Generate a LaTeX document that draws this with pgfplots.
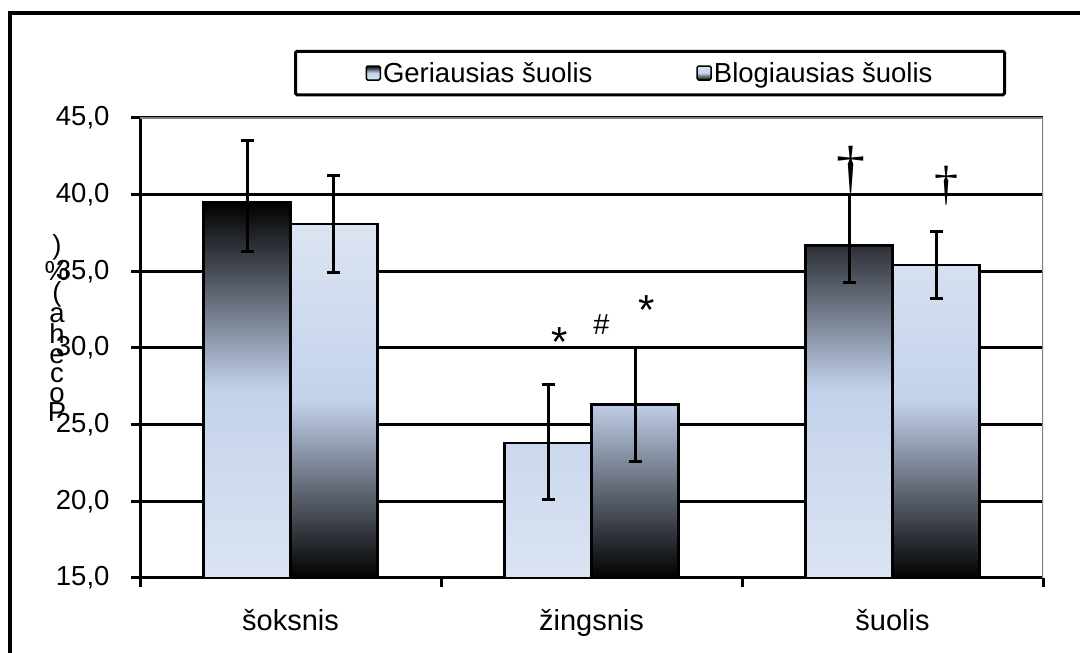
\documentclass[border=0pt]{standalone}
\usepackage{pgfplots}
\pgfplotsset{compat=1.18}
\usepackage{pgfplotstable}
\usepackage{fontspec}
\setmainfont{Liberation Sans}
\newfontfamily\serifdag{Liberation Serif}
\definecolor{lightbar}{HTML}{DCE4F2}
\definecolor{midbar}{HTML}{C3D2EC}
\definecolor{bordergray}{HTML}{808080}
\newcommand\fs{\fontsize{27.5bp}{32bp}\selectfont}

\pgfplotstableread{
cat mean errp errm
0 39.5 4.0 3.2
1 23.8 3.85 3.67
2 36.7 3.3 2.4
}\geriausias
\pgfplotstableread{
cat mean errp errm
0 38.1 3.15 3.15
1 26.3 3.7 3.7
2 35.4 2.2 2.2
}\blogiausias

\begin{document}
\begin{tikzpicture}
\useasboundingbox (0,0) rectangle (1080bp,653bp);
\draw[line width=3.5bp] (10bp,-10bp) -- (10bp,640bp) -- (1090bp,640bp);
\begin{axis}[
  at={(140bp,75bp)}, anchor=south west,
  width=903bp, height=460bp, scale only axis,
  xmin=-0.5, xmax=2.5, ymin=0, ymax=30,
  ybar=0pt, bar width=0.289,
  axis x line*=bottom, axis y line*=left,
  axis line style={black, line width=3bp, -},
  ytick={0,5,10,15,20,25,30},
  yticklabels={{15,0},{20,0},{25,0},{30,0},{35,0},{40,0},{45,0}},
  xtick={-0.5,0.5,1.5,2.5},
  xticklabels={},
  extra x ticks={0,1,2},
  extra x tick labels={šoksnis,žingsnis,šuolis},
  extra x tick style={major tick length=0pt, grid=none,
    xticklabel style={anchor=base, yshift=-53bp, font=\fontsize{29bp}{33bp}\selectfont}},
  tick align=outside,
  major tick length=9bp,
  tick style={black, line width=3bp},
  tick label style={font=\fs},
  yticklabel style={xshift=-18bp, font=\fs},
  ymajorgrids,
  major grid style={black, line width=3bp},
  ylabel={)\\\%\\(\\a\\h\\e\\c\\o\\P},
  ylabel style={rotate=-90, align=center, font=\fontsize{27.5bp}{19.5bp}\selectfont,
    at={(axis description cs:-0.092,0.543)}, anchor=center, inner sep=0pt},
  legend columns=2,
  legend style={at={(0.5648,1.0978)}, anchor=center, draw=black, line width=3bp,
    rounded corners=1.5bp, inner xsep=70bp, inner ysep=9bp, font=\fs,
    /tikz/every even column/.append style={column sep=102bp}},
  legend image code/.code={\draw[#1, line width=1.5bp] (5bp,-7bp) rectangle (19bp,7bp);},
  error bars/y dir=both, error bars/y explicit,
  error bars/error bar style={black, line width=3bp},
  error bars/error mark options={rotate=90, mark size=6.5bp, line width=3bp, black},
]
\addplot[draw=black, line width=2.5bp, top color=black, bottom color=lightbar, middle color=midbar]
  table[x=cat, y expr=\thisrow{mean}-15, y error plus=errp, y error minus=errm] {\geriausias};
\addplot[draw=black, line width=2.5bp, top color=lightbar, bottom color=black, middle color=midbar]
  table[x=cat, y expr=\thisrow{mean}-15, y error plus=errp, y error minus=errm] {\blogiausias};
\legend{Geriausias šuolis, Blogiausias šuolis}
\draw[bordergray, line width=3bp] (rel axis cs:0,1) -- (rel axis cs:1,1) -- (rel axis cs:1,0);
\node[font=\fontsize{42bp}{42bp}\selectfont, inner sep=0pt] at (axis cs:0.895,15.4) {*};
\node[font=\fontsize{29bp}{29bp}\selectfont, inner sep=0pt] at (axis cs:1.033,16.5) {\#};
\node[font=\fontsize{42bp}{42bp}\selectfont, inner sep=0pt] at (axis cs:1.183,17.5) {*};
\node[font=\serifdag\fontsize{58bp}{58bp}\selectfont, inner sep=0pt, anchor=north] at (axis cs:1.862,28.2) {†};
\node[font=\serifdag\fontsize{48bp}{48bp}\selectfont, inner sep=0pt, anchor=north] at (axis cs:2.180,26.9) {†};
\end{axis}
\end{tikzpicture}
\end{document}
